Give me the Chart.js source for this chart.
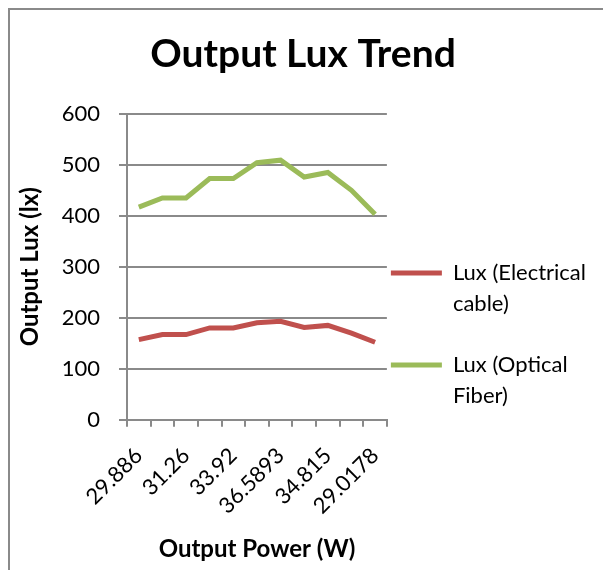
<!DOCTYPE html>
<html>
<head>
<meta charset="utf-8">
<script src="https://cdn.jsdelivr.net/npm/chart.js@4"></script>
<style>
  html, body { margin: 0; padding: 0; background: #fff; overflow: hidden; }
  body { width: 603px; height: 570px; position: relative; }
  #frame { position: absolute; left: 8px; top: 8px; width: 700px; height: 700px; border: 2px solid #8a8a8a; }
  #wrap { position: absolute; left: 10px; top: 10px; width: 593px; height: 560px; }
</style>
</head>
<body>
<div id="frame"></div>
<div id="wrap"><canvas id="mycanvas"></canvas></div>
<script>
// output power (W) for each reading
var power = ['29.886', '30.62', '31.26', '32.55', '33.92', '35.41', '36.5893', '35.72', '34.815', '32.13', '29.0178'];
var luxElectrical = [157, 167, 167, 180, 180, 190, 193, 181, 185, 170, 152];
var luxOptical = [417, 435, 435, 473, 473, 504, 509, 476, 485, 450, 403];
var yTicks = [0, 100, 200, 300, 400, 500, 600];

var legendText = [['Lux (Electrical', 'cable)'], ['Lux (Optical', 'Fiber)']];

Chart.defaults.font.family = 'Lato';
Chart.defaults.color = '#000';

// push the legend down a bit, it sits lower than the middle in the original
var legendShift = {
  id: 'legendShift',
  afterLayout: function(chart) {
    if (chart.legend) {
      chart.legend.top += 51;
      chart.legend.bottom += 51;
    }
  }
};

var chartdata = {
  labels: power,
  datasets: [
    {
      label: 'Lux (Electrical cable)',
      data: luxElectrical,
      borderColor: '#C0504D',
      backgroundColor: '#C0504D',
      borderWidth: 5,
      pointRadius: 0,
      tension: 0
    },
    {
      label: 'Lux (Optical Fiber)',
      data: luxOptical,
      borderColor: '#9BBB59',
      backgroundColor: '#9BBB59',
      borderWidth: 5,
      pointRadius: 0,
      tension: 0
    }
  ]
};

var ctx = document.getElementById('mycanvas');

var lineGraph = new Chart(ctx, {
  type: 'line',
  data: chartdata,
  plugins: [legendShift],
  options: {
    responsive: true,
    maintainAspectRatio: false,
    animation: false,
    layout: { padding: { left: 0, right: 7, top: 0, bottom: 4 } },
    plugins: {
      title: {
        display: true,
        text: 'Output Lux Trend',
        font: { size: 39, weight: 'bold' },
        color: '#000',
        padding: { top: 21, bottom: 36 }
      },
      legend: {
        position: 'right',
        maxWidth: 216,
        labels: {
          usePointStyle: true,
          pointStyle: 'line',
          pointStyleWidth: 51,
          padding: 4,
          font: { size: 22, lineHeight: 1.41 },
          color: '#000',
          generateLabels: function(chart) {
            var items = chart.data.datasets.map(function(ds, i) {
              return {
                text: legendText[i],
                strokeStyle: ds.borderColor,
                fillStyle: ds.borderColor,
                lineWidth: 5,
                pointStyle: 'line',
                datasetIndex: i,
                hidden: false
              };
            });
            // blank row between the two entries
            items.splice(1, 0, { text: '', strokeStyle: 'rgba(0,0,0,0)', fillStyle: 'rgba(0,0,0,0)', lineWidth: 1, pointStyle: 'line', hidden: false });
            return items;
          }
        }
      },
      tooltip: { enabled: false }
    },
    scales: {
      x: {
        offset: true,
        afterFit: function(scale) {
          // rotated labels may hang past the plot edges like in the original
          scale.paddingLeft = 0;
          scale.paddingRight = 0;
        },
        grid: { offset: true, drawOnChartArea: false, tickLength: 7, color: '#8a8a8a', lineWidth: 2 },
        border: { color: '#8a8a8a', width: 2 },
        ticks: {
          autoSkip: false,
          maxRotation: 45,
          minRotation: 45,
          padding: 16,
          font: { size: 22 },
          callback: function(val, i) { return i % 2 === 0 ? power[i] : ''; }
        },
        title: {
          display: true,
          text: 'Output Power (W)',
          font: { size: 24, weight: 'bold' },
          padding: { top: 0, bottom: 2 }
        }
      },
      y: {
        min: 0,
        max: 600,
        afterBuildTicks: function(scale) {
          scale.ticks = yTicks.map(function(v) { return { value: v }; });
        },
        afterFit: function(scale) {
          scale.width = 117;
        },
        grid: { tickLength: 8, color: '#8a8a8a', lineWidth: 2 },
        border: { color: '#8a8a8a', width: 2 },
        ticks: { padding: 19, font: { size: 22 } },
        title: {
          display: true,
          text: 'Output Lux (lx)',
          font: { size: 24, weight: 'bold' },
          padding: { top: 6, bottom: 10 }
        }
      }
    }
  }
});
</script>
</body>
</html>
